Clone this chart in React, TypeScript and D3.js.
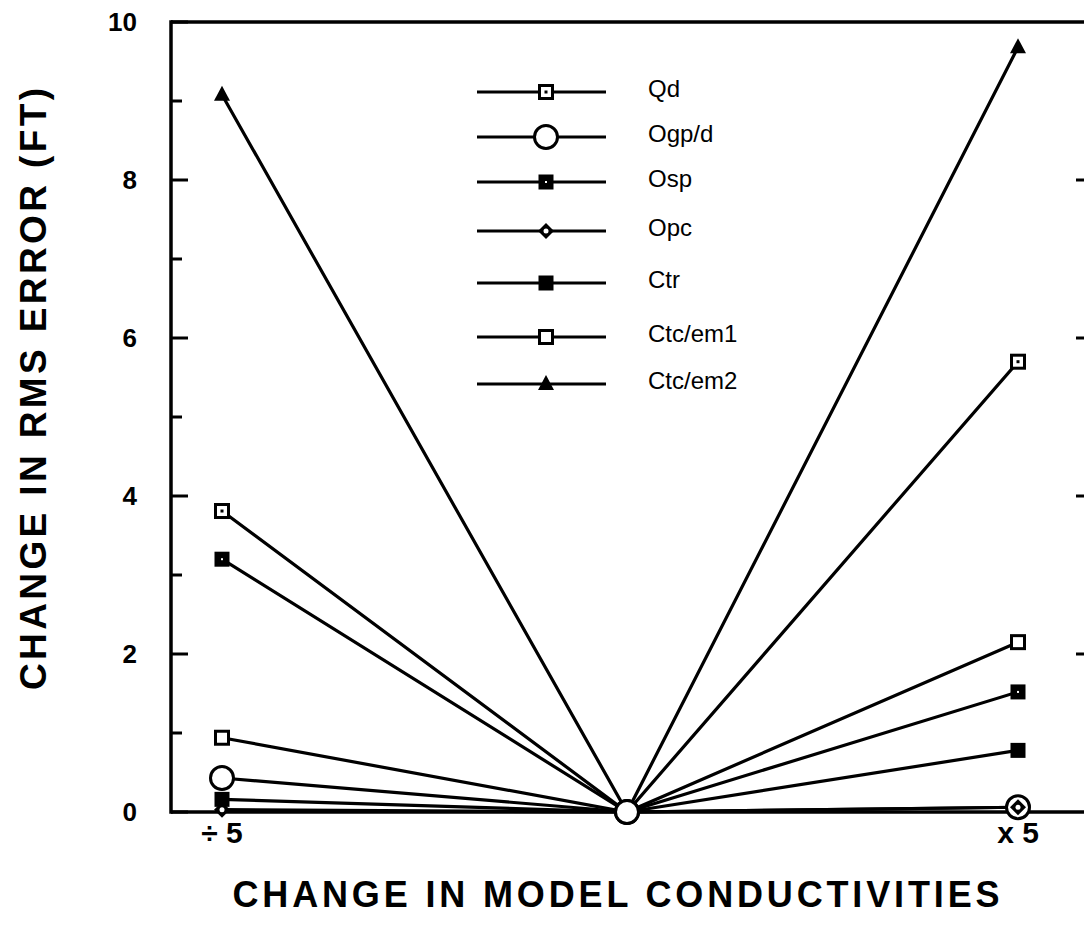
import React from "react";
import * as d3 from "d3";

// Conductivity multiplier cases along the x axis (log-symmetric positions)
const cases = [-1, 0, 1];
const caseLabels = ["÷ 5", "x 5"];
const caseLabelPos = [-1, 1];

// Series: change in RMS error (ft) at ÷5, unchanged, x5
const seriesNames = ["Qd", "Ogp/d", "Osp", "Opc", "Ctr", "Ctc/em1", "Ctc/em2"];
const qd = [3.81, 0, 5.7];
const ogpd = [0.43, 0, 0.06];
const osp = [3.2, 0, 1.52];
const opc = [0.03, 0, 0.06];
const ctr = [0.16, 0, 0.78];
const ctcEm1 = [0.94, 0, 2.15];
const ctcEm2 = [9.08, 0, 9.68];
const seriesValues = [qd, ogpd, osp, opc, ctr, ctcEm1, ctcEm2];
const markerKinds = ["dotSquare", "circle", "filledDotSquare", "diamond", "filledSquare", "square", "triangle"];

const yMajorTicks = [0, 2, 4, 6, 8, 10];
const yMinorTicks = [1, 3, 5, 7, 9];
const rightTicks = [2, 4, 6, 8];

const W = 1084;
const H = 943;
const left = 171;
const top = 22;
const bottom = 812;
const rightEdge = 1092;

const FONT = "'Liberation Sans', Arial, Helvetica, sans-serif";

function Marker({ kind, x, y }: { kind: string; x: number; y: number }) {
  const s = 13;
  switch (kind) {
    case "dotSquare":
      return (
        <g>
          <rect x={x - s / 2} y={y - s / 2} width={s} height={s} fill="#fff" stroke="#000" strokeWidth={3} />
          <rect x={x - 1.5} y={y - 1.5} width={3} height={3} fill="#000" />
        </g>
      );
    case "circle":
      return <circle cx={x} cy={y} r={11.5} fill="#fff" stroke="#000" strokeWidth={3} />;
    case "filledDotSquare":
      return (
        <g>
          <rect x={x - s / 2 - 1} y={y - s / 2 - 1} width={s + 2} height={s + 2} fill="#000" />
          <rect x={x - 1} y={y - 1} width={2} height={2} fill="#fff" />
        </g>
      );
    case "diamond":
      return (
        <g>
          <path d={`M${x},${y - 8}L${x + 8},${y}L${x},${y + 8}L${x - 8},${y}Z`} fill="#000" />
          <circle cx={x} cy={y} r={2.5} fill="#fff" />
        </g>
      );
    case "filledSquare":
      return <rect x={x - 7.5} y={y - 7.5} width={15} height={15} fill="#000" />;
    case "square":
      return <rect x={x - s / 2} y={y - s / 2} width={s} height={s} fill="#fff" stroke="#000" strokeWidth={3} />;
    case "triangle":
      return <path d={`M${x},${y - 9}L${x + 8},${y + 6}L${x - 8},${y + 6}Z`} fill="#000" />;
    default:
      return null;
  }
}

export default function App() {
  const x = d3.scaleLinear().domain([-1, 0, 1]).range([222, 627, 1018]);
  const y = d3.scaleLinear().domain([0, 10]).range([bottom, top]);
  const line = d3
    .line<number>()
    .x((_, i) => x(cases[i]))
    .y((d) => y(d));

  const legendRows = [92, 137, 182, 231, 283, 337, 384];

  return (
    <svg width={W} height={H} style={{ position: "absolute", left: 0, top: 0, background: "#fff" }}>
      <rect width={W} height={H} fill="#fff" />

      {/* frame */}
      <line x1={left} y1={top} x2={rightEdge} y2={top} stroke="#000" strokeWidth={3.5} />
      <line x1={left} y1={bottom} x2={rightEdge} y2={bottom} stroke="#000" strokeWidth={3.5} />
      <line x1={left} y1={top - 1.75} x2={left} y2={bottom + 1.75} stroke="#000" strokeWidth={3.5} />
      <line x1={rightEdge} y1={top} x2={rightEdge} y2={bottom} stroke="#000" strokeWidth={3.5} />

      {/* left axis ticks */}
      {yMajorTicks.map((t) => (
        <line key={"M" + t} x1={left} x2={left + 17} y1={y(t)} y2={y(t)} stroke="#000" strokeWidth={3} />
      ))}
      {yMinorTicks.map((t) => (
        <line key={"m" + t} x1={left} x2={left + 11} y1={y(t)} y2={y(t)} stroke="#000" strokeWidth={3} />
      ))}
      {rightTicks.map((t) => (
        <line key={"r" + t} x1={rightEdge - 16} x2={rightEdge} y1={y(t)} y2={y(t)} stroke="#000" strokeWidth={3} />
      ))}
      {yMajorTicks.map((t) => (
        <text
          key={"l" + t}
          x={137}
          y={y(t)}
          dy="0.36em"
          textAnchor="end"
          fontFamily={FONT}
          fontWeight="bold"
          fontSize={26}
        >
          {t}
        </text>
      ))}

      {/* x case labels */}
      {caseLabels.map((lab, i) => (
        <text
          key={lab}
          x={x(caseLabelPos[i])}
          y={843}
          textAnchor="middle"
          fontFamily={FONT}
          fontWeight="bold"
          fontSize={30}
          xmlSpace="preserve"
        >
          {lab}
        </text>
      ))}

      {/* axis titles */}
      <text
        x={616}
        y={907}
        textAnchor="middle"
        fontFamily={FONT}
        fontWeight="bold"
        fontSize={36}
        textLength={767}
        lengthAdjust="spacing"
      >
        CHANGE IN MODEL CONDUCTIVITIES
      </text>
      <text
        transform="translate(46,389) rotate(-90)"
        textAnchor="middle"
        fontFamily={FONT}
        fontWeight="bold"
        fontSize={37}
        textLength={602}
        lengthAdjust="spacing"
      >
        CHANGE IN RMS ERROR (FT)
      </text>

      {/* series lines */}
      {seriesValues.map((vals, k) => (
        <path key={"p" + k} d={line(vals) || ""} fill="none" stroke="#000" strokeWidth={3.2} />
      ))}
      {/* series markers */}
      {seriesValues.map((vals, k) =>
        vals.map((v, i) => <Marker key={`mk${k}-${i}`} kind={markerKinds[k]} x={x(cases[i])} y={y(v)} />)
      )}
      {/* center point drawn with the circle on top */}
      <Marker kind="circle" x={x(0)} y={y(ogpd[1])} />

      {/* legend */}
      {seriesNames.map((name, k) => (
        <g key={"lg" + name}>
          <line x1={477} x2={606} y1={legendRows[k]} y2={legendRows[k]} stroke="#000" strokeWidth={3.2} />
          <Marker kind={markerKinds[k]} x={546} y={legendRows[k]} />
          <text x={648} y={legendRows[k]} dy="0.2em" fontFamily={FONT} fontSize={24}>
            {name}
          </text>
        </g>
      ))}
    </svg>
  );
}
